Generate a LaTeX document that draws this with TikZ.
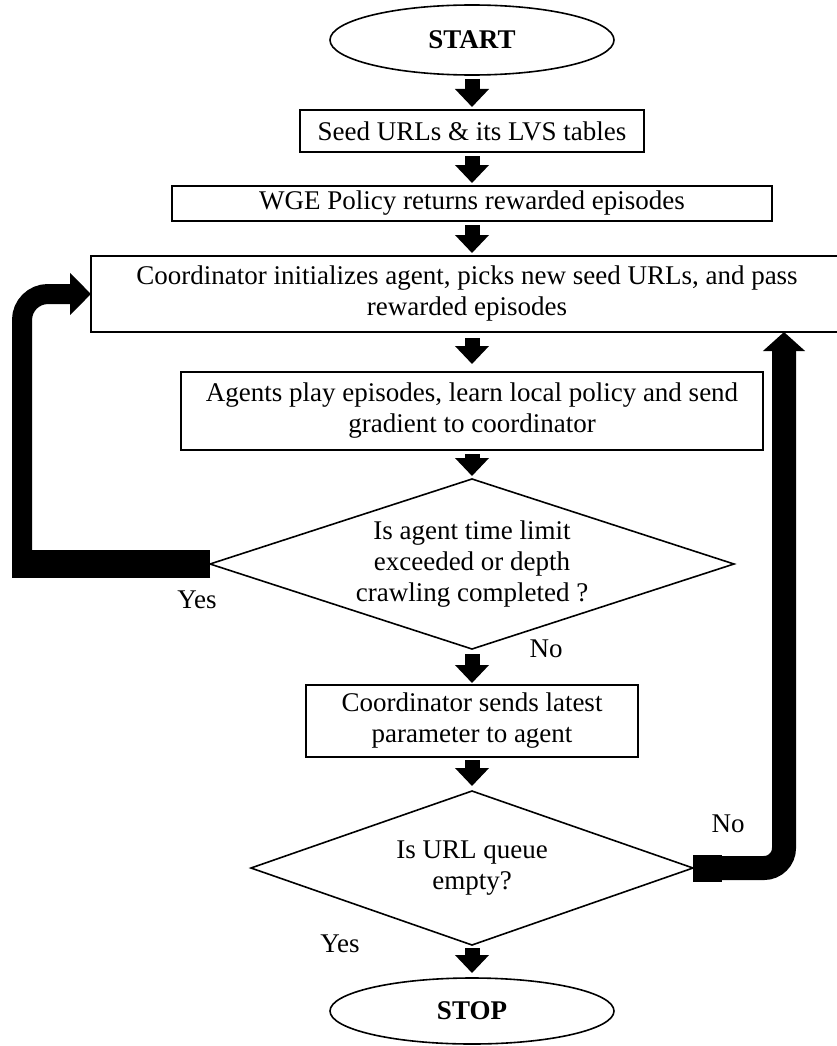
\documentclass[tikz,border=0pt]{standalone}
\usepackage{fontspec}
\setmainfont{Liberation Serif}
\usepackage{tikz}
\usetikzlibrary{positioning,shapes.geometric,arrows.meta}

\begin{document}
\begin{tikzpicture}[x=1pt, y=-1pt,
  every node/.style={font=\fontsize{27}{31}\selectfont, inner sep=0pt, outer sep=0pt},
  procbox/.style={draw, line width=1.6pt, rectangle, align=center},
  termbox/.style={draw, line width=1.6pt, ellipse, font=\fontsize{27}{31}\selectfont\bfseries},
  decbox/.style={draw, line width=1.6pt, diamond, align=center},
  flowarrow/.style={line width=15pt, -{Triangle[width=33pt,length=18pt]}, shorten <=4pt, shorten >=3pt},
  loopline/.style={line width=20pt, rounded corners=26pt},
]
  \useasboundingbox (0,0) rectangle (836,1046);

  % main column
  \node[termbox, minimum width=284pt, minimum height=70pt] (start) at (472,40) {START};
  \node[procbox, minimum width=344pt, minimum height=42pt] (seed) at (472,131) {Seed URLs \& its LVS tables};
  \node[procbox, minimum width=600pt, minimum height=35pt] (wge) at (472,203.5) {WGE Policy returns rewarded episodes};
  \node[procbox, minimum width=752pt, minimum height=76pt] (coord) at (467,294)
    {Coordinator initializes agent, picks new seed URLs, and pass\\rewarded episodes};
  \node[procbox, minimum width=582pt, minimum height=78pt] (agents) at (472,411)
    {Agents play episodes, learn local policy and send\\gradient to coordinator};
  \node[decbox, aspect=3.08, minimum width=524pt, minimum height=170pt] (check) at (472,564)
    {Is agent time limit\\exceeded or depth\\crawling completed ?};
  \node[procbox, minimum width=332pt, minimum height=72pt] (params) at (472,721)
    {Coordinator sends latest\\parameter to agent};
  \node[decbox, aspect=2.87, minimum width=442pt, minimum height=154pt] (queue) at (472,868)
    {Is URL queue\\empty?};
  \node[termbox, minimum width=284pt, minimum height=66pt] (stop) at (472,1011) {STOP};

  % labels
  \node (yesa) at (197,600) {Yes};
  \node (noa) at (546,649) {No};
  \node (nob) at (728,824) {No};
  \node (yesb) at (340,944) {Yes};

  % block arrows
  \draw[flowarrow] (start) -- (seed);
  \draw[flowarrow] (seed) -- (wge);
  \draw[flowarrow] (wge.south) -- (coord.north -| wge.south);
  \draw[flowarrow, shorten <=6pt, shorten >=8pt] (coord.south -| agents.north) -- (agents.north);
  \draw[flowarrow] (agents) -- (check);
  \draw[flowarrow, shorten <=5pt, shorten >=2pt] (check) -- (params);
  \draw[flowarrow, shorten <=3pt, shorten >=5pt] (params) -- (queue);
  \draw[flowarrow, shorten <=3pt, shorten >=5pt] (queue) -- (stop);

  % loop back (Yes)
  \coordinate (lturn) at (22,564);
  \draw[line width=28pt] (check.west) -- ([xshift=-10pt]lturn);
  \draw[loopline, -{Triangle[width=41pt,length=21pt]}] (lturn) |- (coord.west);

  % loop back (No)
  \coordinate (rturn) at (784,868);
  \fill (queue.east) ++(0,-13.5) rectangle ++(29,27);
  \draw[loopline, line width=24pt, rounded corners=20pt, -{Triangle[width=41pt,length=19pt]}]
    (queue.east) -| (coord.south -| rturn);
\end{tikzpicture}
\end{document}
